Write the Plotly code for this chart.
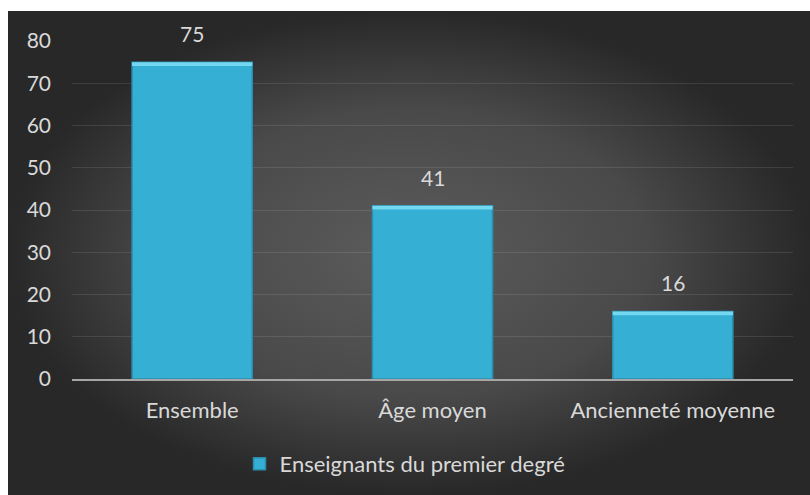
import plotly.graph_objects as go

categories = ["Ensemble", "Âge moyen", "Ancienneté moyenne"]
values = [75, 41, 16]
series_name = "Enseignants du premier degré"
y_ticks = [0, 10, 20, 30, 40, 50, 60, 70, 80]

TEXT = "#d9d9d9"
FONT = "Lato"

fig = go.Figure()

# dark radial backdrop on a full-page helper subplot
fig.add_trace(go.Scatter(
    x=[8 / 810, 1, 1, 8 / 810, 8 / 810],
    y=[0, 0, 484 / 495, 484 / 495, 0],
    mode="lines", line=dict(width=0), fill="toself",
    fillgradient=dict(type="radial",
                      colorscale=[[0, "#5c5c5c"], [0.6, "#494949"], [1, "#282828"]]),
    hoverinfo="skip", showlegend=False, xaxis="x", yaxis="y",
))

# main bars
fig.add_trace(go.Bar(
    x=categories, y=values, name=series_name, width=0.5,
    marker=dict(color="#35afd4", line=dict(color="#2b8eac", width=1.5)),
    xaxis="x2", yaxis="y2",
))

# light bevel along the top of each bar
bevel = 0.9
fig.add_trace(go.Bar(
    x=categories, y=[bevel] * len(values), base=[v - bevel for v in values],
    width=0.5, marker=dict(color="#74d8f1", line=dict(width=0)),
    showlegend=False, hoverinfo="skip", xaxis="x2", yaxis="y2",
))

# value labels above bars
for c, v in zip(categories, values):
    fig.add_annotation(x=c, y=v, xref="x2", yref="y2", text=str(v),
                       showarrow=False, yanchor="bottom", yshift=14,
                       font=dict(family=FONT, size=21, color=TEXT))

fig.update_layout(
    width=810, height=495,
    margin=dict(l=0, r=0, t=0, b=0, autoexpand=False),
    paper_bgcolor="white", plot_bgcolor="rgba(0,0,0,0)",
    barmode="overlay",
    font=dict(family=FONT, size=21, color=TEXT),
    xaxis=dict(domain=[0, 1], range=[0, 1], visible=False, fixedrange=True),
    yaxis=dict(domain=[0, 1], range=[0, 1], visible=False, fixedrange=True),
    xaxis2=dict(domain=[72 / 810, 793 / 810], anchor="y2", automargin=False,
                showline=True, linecolor="#a6a6a6", linewidth=2,
                showgrid=False, ticks="", ticklabelstandoff=11,
                tickfont=dict(family=FONT, size=22, color=TEXT)),
    yaxis2=dict(domain=[116 / 495, 454 / 495], anchor="x2", automargin=False,
                range=[0, 80], tickvals=y_ticks,
                showgrid=True, gridcolor="rgba(255,255,255,0.10)", gridwidth=1,
                zeroline=False, showline=False, ticks="", ticklabelstandoff=20,
                tickfont=dict(family=FONT, size=21, color=TEXT)),
    legend=dict(orientation="h", x=0.5, y=31 / 495, xanchor="center", yanchor="middle",
                bgcolor="rgba(0,0,0,0)", font=dict(family=FONT, size=22, color=TEXT),
                itemwidth=30),
    showlegend=True,
)

fig.write_html("out.html")
